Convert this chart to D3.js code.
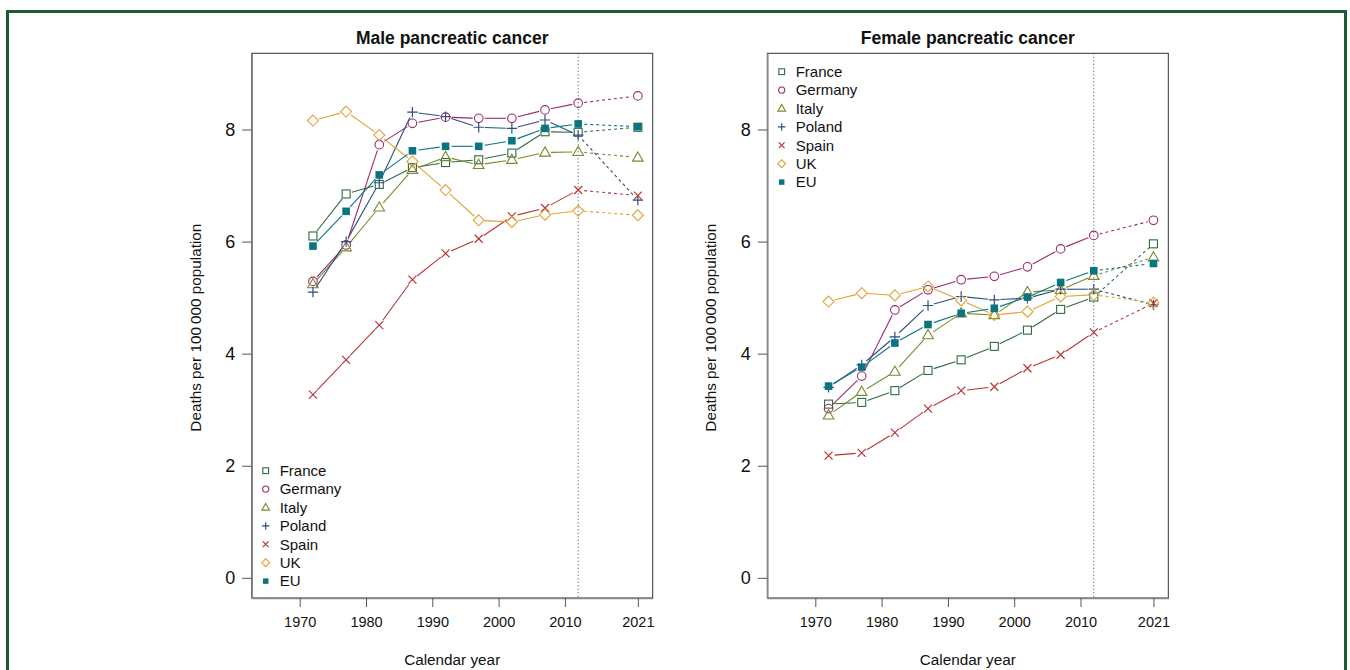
<!DOCTYPE html>
<html><head><meta charset="utf-8">
<script src="https://cdn.jsdelivr.net/npm/d3@7"></script>
<style>
html,body{margin:0;padding:0;background:#fff;}
svg{display:block;font-family:"Liberation Sans",Arial,Helvetica,sans-serif;}
</style></head>
<body><svg id="c" width="1350" height="670"></svg>
<script>
const years = [1972,1977,1982,1987,1992,1997,2002,2007,2012,2021];
const xTicks = [1970,1980,1990,2000,2010,2021];
const yTicks = [0,2,4,6,8];
const countries = ["France","Germany","Italy","Poland","Spain","UK","EU"];
const colors = ["#2f6b40","#9b2a6c","#7b8a2e","#2d4e80","#b83438","#e0a23a","#0b7480"];
const symbols = ["square","circle","triangle","plus","cross","diamond","filled"];

// Male rates
const maleFrance  = [6.10,6.85,7.02,7.32,7.41,7.46,7.58,7.96,7.95,8.04];
const maleGermany = [5.29,5.94,7.73,8.11,8.22,8.20,8.20,8.35,8.47,8.60];
const maleItaly   = [5.24,5.90,6.61,7.28,7.51,7.37,7.46,7.59,7.60,7.50];
const malePoland  = [5.10,6.00,7.05,8.31,8.23,8.04,8.02,8.17,7.90,6.74];
const maleSpain   = [3.27,3.89,4.51,5.32,5.79,6.05,6.45,6.60,6.92,6.82];
const maleUK      = [8.16,8.32,7.90,7.43,6.92,6.38,6.35,6.48,6.55,6.47];
const maleEU      = [5.92,6.54,7.19,7.62,7.70,7.70,7.80,8.02,8.10,8.05];

// Female rates
const femaleFrance  = [3.10,3.13,3.34,3.70,3.89,4.13,4.42,4.79,5.01,5.96];
const femaleGermany = [3.02,3.60,4.78,5.14,5.32,5.38,5.55,5.87,6.11,6.38];
const femaleItaly   = [2.90,3.32,3.68,4.33,4.72,4.69,5.10,5.14,5.39,5.72];
const femalePoland  = [3.40,3.80,4.30,4.86,5.02,4.96,4.99,5.15,5.15,4.87];
const femaleSpain   = [2.18,2.23,2.59,3.02,3.34,3.41,3.74,3.98,4.38,4.90];
const femaleUK      = [4.93,5.08,5.04,5.20,4.95,4.69,4.75,5.02,5.05,4.91];
const femaleEU      = [3.42,3.76,4.19,4.52,4.72,4.81,5.01,5.27,5.48,5.61];

const panels = [
  {title:"Male pancreatic cancer", x0:251.7, x1:652.7,
   series:[maleFrance,maleGermany,maleItaly,malePoland,maleSpain,maleUK,maleEU],
   legend:{x:265.7, y:470.7}},
  {title:"Female pancreatic cancer", x0:767.3, x1:1168.3,
   series:[femaleFrance,femaleGermany,femaleItaly,femalePoland,femaleSpain,femaleUK,femaleEU],
   legend:{x:781.7, y:71.7}}
];

const svg = d3.select("#c");
// outer frame
svg.append("rect").attr("x",7.5).attr("y",11.5).attr("width",1338).attr("height",670)
  .attr("fill","none").attr("stroke","#1d5c33").attr("stroke-width",3);

const yTop = 53.3, yBot = 598;

function drawSymbol(g, type, cx, cy, col, s){
  if(type==="square"){
    g.append("rect").attr("x",cx-4*s).attr("y",cy-4*s).attr("width",8*s).attr("height",8*s)
     .attr("fill","#fff").attr("stroke",col).attr("stroke-width",1.1);
  } else if(type==="filled"){
    g.append("rect").attr("x",cx-3.8*s).attr("y",cy-3.8*s).attr("width",7.6*s).attr("height",7.6*s)
     .attr("fill",col).attr("stroke","none");
  } else if(type==="circle"){
    g.append("circle").attr("cx",cx).attr("cy",cy).attr("r",4.3*s)
     .attr("fill","none").attr("stroke",col).attr("stroke-width",1.1);
  } else if(type==="triangle"){
    const h=5.6*s;
    g.append("path").attr("d",`M${cx},${cy-h}L${cx+h*0.95},${cy+h*0.65}L${cx-h*0.95},${cy+h*0.65}Z`)
     .attr("fill","none").attr("stroke",col).attr("stroke-width",1.1);
  } else if(type==="plus"){
    const h=5.2*s;
    g.append("path").attr("d",`M${cx-h},${cy}H${cx+h}M${cx},${cy-h}V${cy+h}`)
     .attr("stroke",col).attr("stroke-width",1.2).attr("fill","none");
  } else if(type==="cross"){
    const h=4*s;
    g.append("path").attr("d",`M${cx-h},${cy-h}L${cx+h},${cy+h}M${cx-h},${cy+h}L${cx+h},${cy-h}`)
     .attr("stroke",col).attr("stroke-width",1.2).attr("fill","none");
  } else if(type==="diamond"){
    const h=5.5*s;
    g.append("path").attr("d",`M${cx},${cy-h}L${cx+h},${cy}L${cx},${cy+h}L${cx-h},${cy}Z`)
     .attr("fill","none").attr("stroke",col).attr("stroke-width",1.1);
  }
}

panels.forEach(p=>{
  const x = d3.scaleLinear().domain([1962.76,2023.24]).range([p.x0,p.x1]);
  const y = d3.scaleLinear().domain([-0.36,9.36]).range([yBot,yTop]);
  const g = svg.append("g");

  // box
  g.append("rect").attr("x",p.x0).attr("y",yTop).attr("width",p.x1-p.x0).attr("height",yBot-yTop)
    .attr("fill","none").attr("stroke","#333").attr("stroke-width",1);

  // axes
  const ax = g.append("g").attr("transform",`translate(0,${yBot})`)
    .call(d3.axisBottom(x).tickValues(xTicks).tickFormat(d3.format("d")).tickSize(9).tickSizeOuter(0).tickPadding(10));
  ax.select(".domain").attr("stroke","#888").attr("stroke-width",1.6);
  ax.selectAll(".tick line").attr("stroke","#555");
  ax.selectAll("text").attr("font-size",14.5).attr("fill","#111").attr("font-family","Liberation Sans, Arial, sans-serif");

  const ay = g.append("g").attr("transform",`translate(${p.x0},0)`)
    .call(d3.axisLeft(y).tickValues(yTicks).tickSize(9.5).tickSizeOuter(0).tickPadding(7));
  ay.select(".domain").attr("stroke","#888").attr("stroke-width",1.6);
  ay.selectAll(".tick line").attr("stroke","#555");
  ay.selectAll("text").attr("font-size",18).attr("fill","#111").attr("font-family","Liberation Sans, Arial, sans-serif");

  // vertical dotted line at 2012
  g.append("line").attr("x1",x(2012)).attr("x2",x(2012)).attr("y1",yTop).attr("y2",yBot)
    .attr("stroke","#444").attr("stroke-width",1).attr("stroke-dasharray","1,2.5");

  // titles
  const cx = (p.x0+p.x1)/2;
  g.append("text").attr("x",cx).attr("y",43.5).attr("text-anchor","middle")
    .attr("font-size",17.5).attr("font-weight","bold").attr("fill","#111").text(p.title);
  g.append("text").attr("x",cx).attr("y",665).attr("text-anchor","middle")
    .attr("font-size",15.3).attr("fill","#111").text("Calendar year");
  g.append("text").attr("transform",`translate(${p.x0-51},${(yTop+yBot)/2+2}) rotate(-90)`)
    .attr("text-anchor","middle").attr("font-size",15.3).attr("fill","#111").text("Deaths per 100\u2009000 population");

  // series lines with gaps (type "b")
  const gap = 6;
  p.series.forEach((vals,si)=>{
    const col = colors[si];
    for(let i=0;i<vals.length-1;i++){
      const ax1=x(years[i]), ay1=y(vals[i]), ax2=x(years[i+1]), ay2=y(vals[i+1]);
      const dx=ax2-ax1, dy=ay2-ay1, L=Math.hypot(dx,dy);
      if(L<=2*gap) continue;
      const ux=dx/L, uy=dy/L;
      const ln = g.append("line").attr("x1",ax1+ux*gap).attr("y1",ay1+uy*gap)
        .attr("x2",ax2-ux*gap).attr("y2",ay2-uy*gap)
        .attr("stroke",col).attr("stroke-width",1.1);
      if(i===vals.length-2) ln.attr("stroke-dasharray","3,3");
    }
  });
  p.series.forEach((vals,si)=>{
    vals.forEach((v,i)=>drawSymbol(g,symbols[si],x(years[i]),y(v),colors[si],1));
  });

  // legend
  countries.forEach((c,i)=>{
    const ly = p.legend.y + i*18.4;
    drawSymbol(g,symbols[i],p.legend.x,ly,colors[i],0.72);
    g.append("text").attr("x",p.legend.x+14).attr("y",ly+5.3)
      .attr("font-size",15).attr("fill","#111").text(c);
  });
});
</script></body></html>
